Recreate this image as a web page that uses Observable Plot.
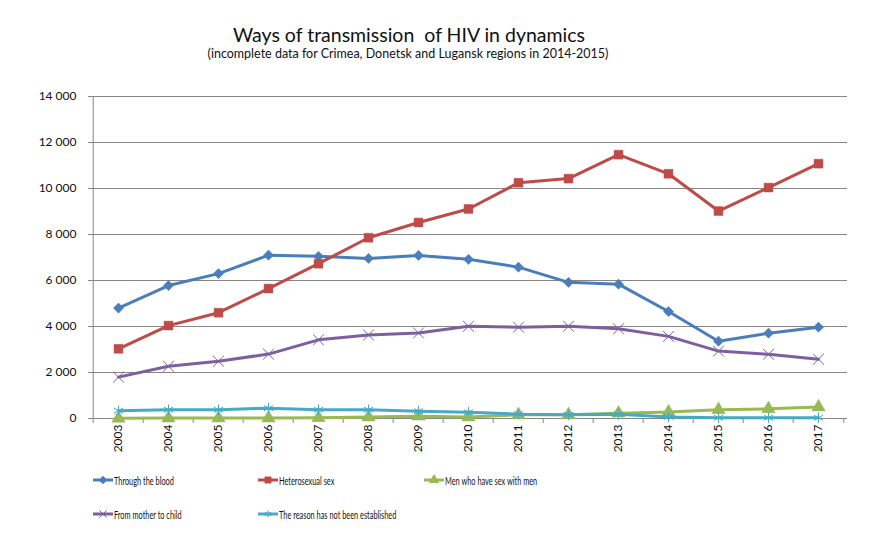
<!DOCTYPE html>
<html><head><meta charset="utf-8">
<script src="https://cdn.jsdelivr.net/npm/d3@7"></script>
<script src="https://cdn.jsdelivr.net/npm/@observablehq/plot@0.6"></script>
<style>
body{margin:0;background:#fff;}
#wrap{position:relative;width:885px;height:548px;overflow:hidden;font-family:Lato,"Open Sans",sans-serif;}
#title{position:absolute;left:0;width:818px;top:25px;line-height:1;text-align:center;font-size:19.5px;color:#111;}
#sub{position:absolute;left:0;width:816px;top:48px;line-height:1;text-align:center;font-size:12.5px;color:#111;}
#chart{position:absolute;left:0;top:75px;}
.leg{position:absolute;display:flex;align-items:center;font-family:Lato,sans-serif;font-size:11.5px;color:#111;white-space:nowrap;}
.leg svg{display:block;margin-right:1px;}
.leg span{display:inline-block;transform:scaleX(0.64);transform-origin:0 50%;}
</style></head>
<body><div id="wrap">
<div id="title">Ways of transmission&nbsp; of HIV in dynamics</div>
<div id="sub">(incomplete data for Crimea, Donetsk and Lugansk regions in 2014-2015)</div>
<div id="chart"></div>
<div id="legend"></div>
</div>
<script>
const years = ["2003","2004","2005","2006","2007","2008","2009","2010","2011","2012","2013","2014","2015","2016","2017"];
const seriesNames = ["Through the blood","Heterosexual sex","Men who have sex with men","From mother to child","The reason has not been established"];
const blood  = [4800,5780,6300,7100,7050,6960,7090,6920,6580,5920,5840,4650,3360,3710,3970];
const hetero = [3030,4040,4600,5650,6730,7860,8520,9110,10250,10430,11470,10640,9020,10040,11080];
const msm    = [10,20,20,20,30,60,100,60,160,160,230,280,380,420,500];
const mother = [1800,2270,2490,2800,3420,3630,3720,4010,3970,4010,3900,3570,2930,2790,2580];
const unknown= [340,380,380,450,380,380,320,270,190,160,180,70,30,30,30];
const colors = ["#4A7EBB","#BE4B48","#98B954","#7D5FA0","#46AAC5"];
const symbols = ["diamond2","square","triangle","times","asterisk"];
const yTicks = [0,2000,4000,6000,8000,10000,12000,14000];

const allValues = [blood,hetero,msm,mother,unknown];
const data = [];
allValues.forEach((vals,si)=>vals.forEach((v,i)=>data.push({year:years[i], value:v, series:seriesNames[si]})));

const W=885, mL=88, mR=38;
const step = (W-mL-mR)/years.length;
const fmt = d => d3.format(",")(d).replace(/,/g," ");

const marks = [
  Plot.gridY(yTicks,{stroke:"#868686",strokeOpacity:1}),
  Plot.ruleY([0],{stroke:"#868686"}),
  Plot.ruleX([years[0]],{dx:-step/2,stroke:"#868686"}),
  Plot.ruleX(years,{x:d=>d,y1:0,y2:0,dx:-step/2,insetBottom:-5,stroke:"#868686"}),
  Plot.ruleX([years[years.length-1]],{y1:0,y2:0,dx:step/2,insetBottom:-5,stroke:"#868686"}),
  Plot.axisY(yTicks,{tickSize:0,tickPadding:12,tickFormat:fmt,fontSize:12,fill:"#111",label:null}),
  Plot.axisX({tickSize:0,tickRotate:-90,tickPadding:6,fontSize:12,fill:"#111",label:null}),
];
seriesNames.forEach((s,si)=>{
  const d = data.filter(r=>r.series===s);
  marks.push(Plot.line(d,{x:"year",y:"value",stroke:colors[si],strokeWidth:3,curve:"linear"}));
  const filled = si<3;
  const r = [4.6,5,5,5,5][si];
  marks.push(Plot.dot(d,{x:"year",y:"value",symbol:()=>symbols[si],r,
    fill: filled?colors[si]:"none", stroke: colors[si], strokeWidth: filled?0.5:1}));
});

const chart = Plot.plot({
  width:W, height:390, marginLeft:mL, marginRight:mR, marginTop:21, marginBottom:47,
  style:{fontFamily:"Lato, 'Open Sans', sans-serif", background:"#fff"},
  x:{type:"point", domain:years, padding:0.5, align:0.5},
  y:{domain:[0,14000]},
  symbol:{type:"identity"},
  marks
});
document.getElementById("chart").appendChild(chart);

// legend
const legPos = [[93,480],[258,480],[424,480],[93,514],[258,514]];
const legend = document.getElementById("legend");
const symMap = {diamond2:d3.symbolDiamond2,square:d3.symbolSquare,triangle:d3.symbolTriangle,times:d3.symbolTimes,asterisk:d3.symbolAsterisk};
seriesNames.forEach((s,si)=>{
  const div = document.createElement("div");
  div.className="leg";
  div.style.left = legPos[si][0]+"px";
  div.style.top = (legPos[si][1]-8)+"px";
  const filled = si<3;
  const path = d3.symbol(symMap[symbols[si]], 36)();
  div.innerHTML = `<svg width="20" height="16"><line x1="0" x2="20" y1="8" y2="8" stroke="${colors[si]}" stroke-width="3"/><path transform="translate(10,8)" d="${path}" fill="${filled?colors[si]:"none"}" stroke="${colors[si]}" stroke-width="1"/></svg><span>${s}</span>`;
  legend.appendChild(div);
});
</script>
</body></html>
